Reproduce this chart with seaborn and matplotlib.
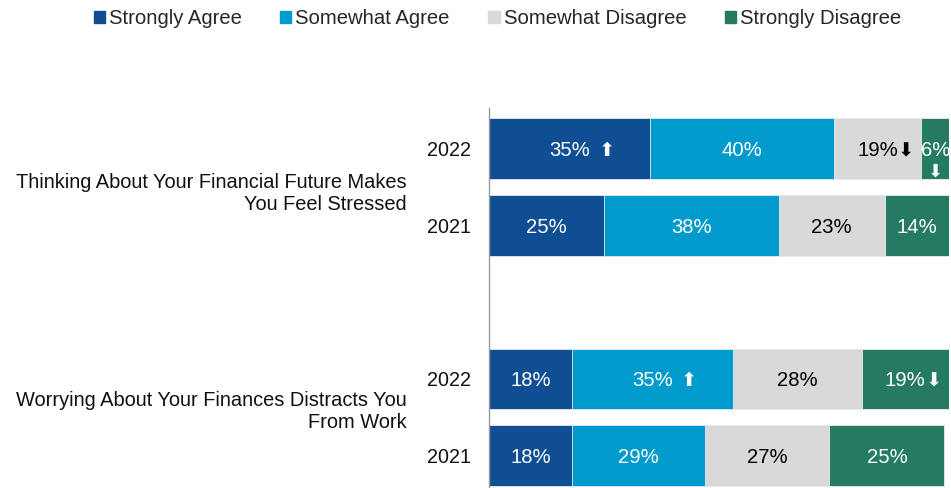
import matplotlib
matplotlib.use("Agg")
import matplotlib.pyplot as plt
import matplotlib.patches as mpatches
import numpy as np
import pandas as pd
import seaborn as sns

# Survey responses (percent of respondents)
questions = [
    "Thinking About Your Financial Future Makes\nYou Feel Stressed",
    "Worrying About Your Finances Distracts You\nFrom Work",
]
years = ["2022", "2021"]
categories = ["Strongly Agree", "Somewhat Agree", "Somewhat Disagree", "Strongly Disagree"]

# one entry per bar: Q1-2022, Q1-2021, Q2-2022, Q2-2021
strongly_agree = [35, 25, 18, 18]
somewhat_agree = [40, 38, 35, 29]
somewhat_disagree = [19, 23, 28, 27]
strongly_disagree = [6, 14, 19, 25]

# significant year-over-year change markers per segment
trend_strongly_agree = ["up", "", "", ""]
trend_somewhat_agree = ["", "", "up", ""]
trend_somewhat_disagree = ["down", "", "", ""]
trend_strongly_disagree = ["down", "", "down", ""]

colors = ["#104E94", "#009ACD", "#D9D9D9", "#247A62"]
text_colors = ["white", "white", "black", "white"]

sns.set_theme(style="white")
plt.rcParams["font.family"] = ["Liberation Sans", "DejaVu Sans"]

FS = 14.6

rows = [f"{q}|{y}" for q in range(len(questions)) for y in years]
order = [rows[0], rows[1], "spacer", rows[2], rows[3]]

values = np.array([strongly_agree, somewhat_agree, somewhat_disagree, strongly_disagree], dtype=float)
trends = [trend_strongly_agree, trend_somewhat_agree, trend_somewhat_disagree, trend_strongly_disagree]
cum = values.cumsum(axis=0)

fig = plt.figure(figsize=(9.51, 4.88), dpi=100)
ax = fig.add_axes([489 / 951, 0.0, 460 / 951, 380 / 488])

# stacked bars: draw cumulative totals from the widest to the narrowest
for k in reversed(range(len(categories))):
    df = pd.DataFrame({"row": rows, "cum": cum[k]})
    sns.barplot(data=df, x="cum", y="row", order=order, orient="h",
                color=colors[k], saturation=1, width=0.79, errorbar=None,
                edgecolor="#e6edf3", linewidth=0.6, ax=ax)

ax.set_xlim(0, 100)
ax.set_ylim(4.42, -0.53)

pos = [0, 1, 3, 4]
ax.set_yticks(pos)
ax.set_yticklabels(years * len(questions), fontsize=14.2, color="#111111")
ax.tick_params(axis="y", length=0, pad=13)
ax.set_xticks([])
ax.set_xlabel("")
ax.set_ylabel("")
for side in ["top", "right", "bottom"]:
    ax.spines[side].set_visible(False)
ax.spines["left"].set_color("#9a9a9a")
ax.spines["left"].set_linewidth(1.0)

arrows = {"up": "\u2B06", "down": "\u2B07"}

# value labels with change arrows
for i, p in enumerate(pos):
    for k in range(len(categories)):
        v = values[k, i]
        center = cum[k, i] - v / 2
        t = ax.text(center, p, f"{int(v)}%", ha="center", va="center_baseline",
                    fontsize=FS, color=text_colors[k])
        tr = trends[k][i]
        if not tr:
            continue
        if v < 10:
            ax.annotate(arrows[tr], xy=(0.5, 0.0), xycoords=t, xytext=(0, -2),
                        textcoords="offset points", ha="center", va="top",
                        fontsize=13, color=text_colors[k],
                        family=["DejaVu Sans"])
        else:
            gap = 6 if tr == "up" else 0
            ax.annotate(arrows[tr], xy=(1.0, 0.5), xycoords=t, xytext=(gap, 0),
                        textcoords="offset points", ha="left", va="center",
                        fontsize=14, color=text_colors[k],
                        family=["DejaVu Sans"])

# question labels to the left of each pair of bars
trans = ax.get_yaxis_transform()
for y, q in zip([0.59, 3.43], questions):
    ax.text((407 - 489) / 460, y, q, transform=trans, ha="right", va="center",
            multialignment="right", fontsize=14.4, color="#111111",
            linespacing=1.2)

handles = [mpatches.Patch(color=c, label=l) for c, l in zip(colors, categories)]
fig.legend(handles=handles, loc="center", bbox_to_anchor=(0.523, 0.962), ncol=4,
           frameon=False, fontsize=FS, handlelength=0.55, handleheight=0.55,
           handletextpad=0.2, columnspacing=1.9, borderaxespad=0)

fig.savefig("out.png", dpi=100)
